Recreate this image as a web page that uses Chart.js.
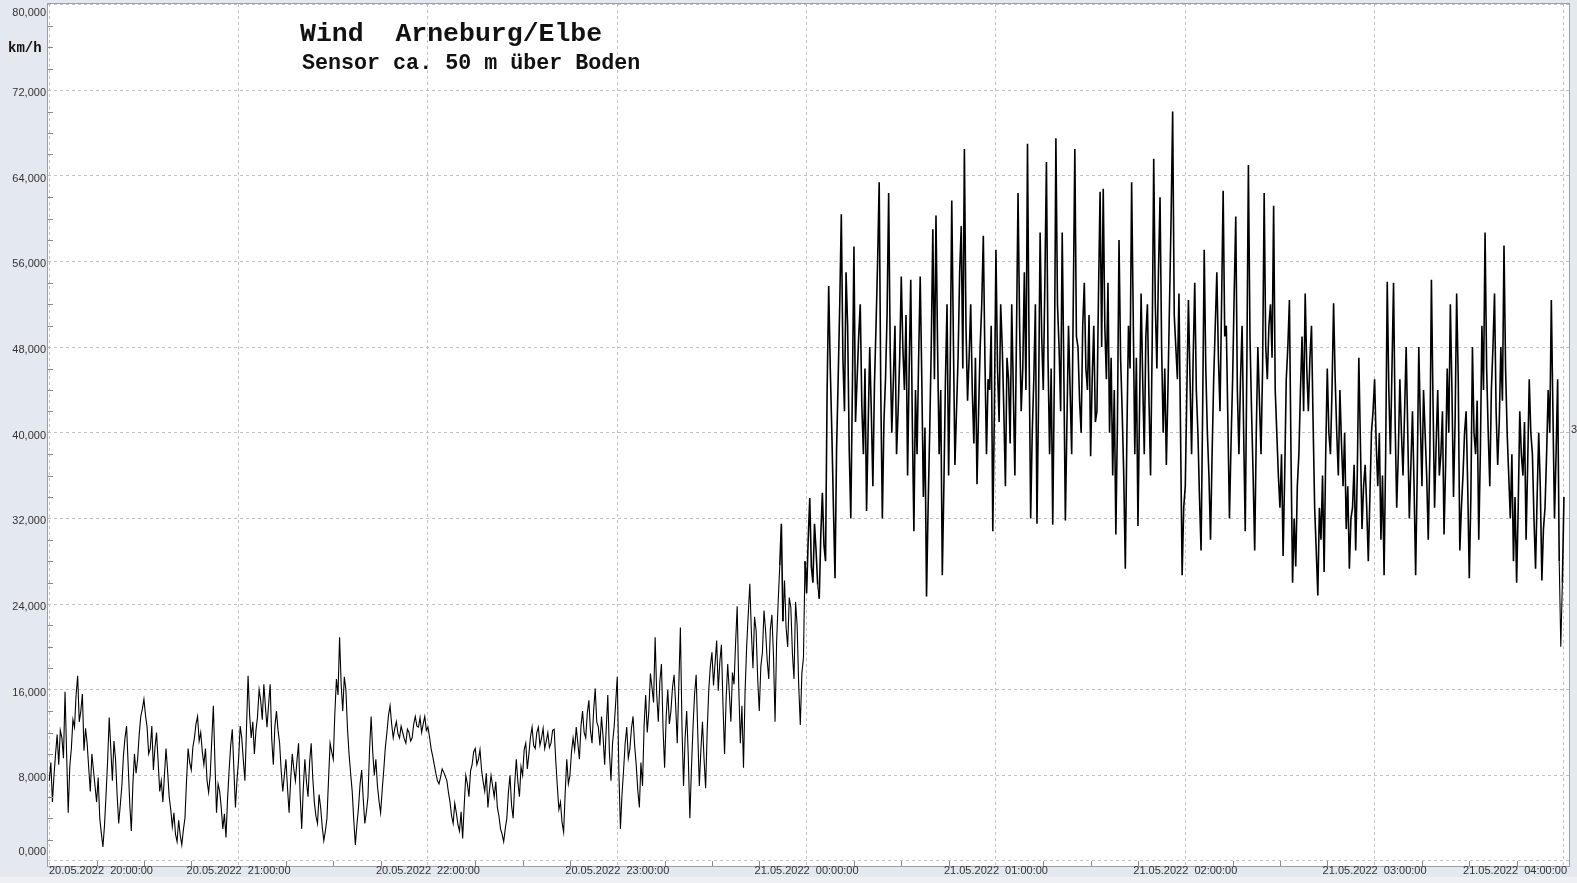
<!DOCTYPE html>
<html>
<head>
<meta charset="utf-8">
<script src="https://cdn.jsdelivr.net/npm/chart.js@4.4.0/dist/chart.umd.min.js"></script>
<style>
    html, body { margin: 0; padding: 0; background: #e4e8ef; overflow: hidden; width: 1577px; height: 883px; }
    #wrap { position: relative; width: 1577px; height: 883px; overflow: hidden; }
    #strip { position: absolute; left: 0; top: 877px; width: 1577px; height: 6px; background: #eef0f4; }
    canvas { display: block; position: absolute; left: 0; top: 0; }
    .mono { position: absolute; font-family: "Liberation Mono", "Courier New", monospace; font-weight: bold; color: #111; white-space: pre; }
    #title { left: 300px; top: 19px; font-size: 26.5px; }
    #sub { left: 302px; top: 51px; font-size: 21.7px; }
    #unit { left: 8px; top: 40px; font-size: 14px; }
    #cur { position: absolute; left: 1571px; top: 423px; font: 11px "Liberation Sans", Arial, sans-serif; color: #333; }
</style>
</head>
<body>
<div id="wrap">
    <div id="strip"></div>
    <canvas id="windChart" width="1577" height="883"></canvas>
    <div id="title" class="mono">Wind  Arneburg/Elbe</div>
    <div id="sub" class="mono">Sensor ca. 50 m über Boden</div>
    <div id="unit" class="mono">km/h</div>
    <div id="cur">3</div>
</div>
<script>
// Windgeschwindigkeit km/h, ein Wert pro 30 s ab 20.05.2022 20:00
const h20 = [7.5,9.2, 5.5,8, 10,11.8, 9,12.2, 11.5,9.6, 15.8,10, 4.5,8.8, 10.5,13.2, 12.5,15.5, 17.3,13,
    14,15.6, 10.3,12.4, 11,8.7, 6.5,10, 8.5,7, 5.5,7.8, 4,2.6, 1.3,3.3, 6.2,9.4, 13.4,10.5,
    7.5,11.2, 9.5,6.2, 3.5,5.2, 7,9.8, 11.5,12.6, 9,5.4, 2.8,7.2, 10,8.2, 9.5,11.8, 13.5,14.2,
    15.1,13.6, 12.5,10, 10.5,12.6, 8.5,10.6, 12,9.3, 6.5,7.5, 5.5,8, 10.5,8.4, 6,4.8, 3.2,4.5,
    2.5,1.8, 3.8,2.4, 1.5,2.9, 4,7.5, 10.5,9.2, 8.5,10.6, 11.5,12.8, 13.5,11.2, 12,10.2, 9,10.5,
    7.5,6.4, 8,11.3, 14.5,9.2, 4.5,7.2, 6.5,5, 3,4.4, 2.2,5.8, 8.5,10.8, 12.3,8.6, 5,7.6];
const h21 = [9.5,12.6, 11.5,9.4, 7.5,12.4, 17.3,13.6, 11.5,13, 10,12.2, 13.5,16, 15,13.2, 16.5,14.4, 12.5,14.6,
    16.5,11.4, 9,12.6, 14,12.2, 11,8.4, 6.5,8, 9.5,6.8, 4.5,7.6, 10,8.6, 7.5,9.4, 11,6.2,
    3,6.8, 9.5,7.4, 6,9.2, 11,7.8, 5.5,4.2, 3.5,6.2, 5,3.2, 1.9,2.8, 4,7.6, 11,10.2,
    9.5,13.8, 17,15.5, 20.9,16.5, 14,17.2, 16,12.4, 10,8.2, 6.5,3.8, 1.5,3.4, 5,7.2, 8.5,5.8,
    3.5,4.6, 6,10.4, 13.5,10.2, 8,9.5, 7,5.6, 4.5,6.6, 8.5,10.6, 12,13.6, 14.5,12.8, 11.5,12.4,
    13,11.9, 11.5,12.6, 12,11.4, 11,12.3, 12,11.2, 11.5,12.8, 13.5,12.6, 12.5,13.4, 12,12.8, 13.5,12.2];
const h22 = [12.5,11.6, 10.5,9.8, 9,8.2, 7.5,7.2, 7.8,8.6, 8.3,7.9, 7.5,6.4, 5.5,4.2, 3.5,5.4, 4.5,3.4,
    2.8,4.6, 2.1,5.2, 8,7.2, 6,8.4, 9,10.2, 10.5,9, 9.5,10.4, 8.5,7.4, 6.5,8.2, 5,6.6,
    8,7, 6,7.4, 5,4.2, 3,2.5, 1.8,3, 4,6.4, 8,5.2, 4,7.2, 9.5,7.4, 6,8.8,
    8,10.4, 11,8.6, 10,11.6, 12.5,10.8, 10.5,12, 12.5,10.8, 11.5,12.4, 10.5,11.2, 12,10.6, 11,12.2,
    12.3,9.4, 7,4.8, 5.5,3.6, 2.7,6.4, 9.5,7.2, 8,10.2, 11.5,10.4, 12.5,11, 9.5,12.6, 14,12,
    11.5,13.8, 15,12.2, 11,14, 16.1,13, 12.5,10.8, 13.5,11.6, 9,12.4, 15.5,10.2, 7.5,11, 12.5,14.8];
const h23 = [17.2,8.4, 3,6.2, 8.5,11, 12.5,9.6, 10.5,12.4, 13.5,10.8, 9,6.6, 5,9.2, 7,12.6, 15.5,12,
    14,17.5, 16.2,14.8, 20.9,15.6, 13,16.8, 18.4,12.4, 8.7,13.5, 16,12.8, 14,16.2, 17.4,14.6, 11,16.4,
    21.8,12.6, 7,11.5, 14,9.8, 4,8.6, 12.5,15.6, 17.4,12, 7,10.4, 13,9.5, 6.8,12.2, 16,18.2,
    19.5,16.4, 18.5,20.6, 15.9,18.6, 20.2,14.6, 10,15.2, 18.4,15.8, 13,17.6, 16.5,20.4, 23.8,16.2, 11,14.5,
    8.7,15.8, 20,23, 25.9,21.4, 18,22.8, 21.5,17, 14,18.2, 19.5,23.4, 21.5,18.8, 17,21.6, 23,19.2,
    13,20.5, 24.3,27.6, 31.5,22.4, 26.2,21.8, 20,24.6, 23.7,19.4, 17,24.2, 22,16.4, 12.7,17.5, 19,28];
const h00 = [25,30, 33.9,27.5, 26,31.5, 29,25.8, 24.5,30.5, 34.4,29.5, 28,44, 53.7,46, 40,33, 26.4,38.5,
    45,52, 60.4,47, 42,55, 50,38.5, 32,44, 57.4,41, 45,49, 52,42.5, 38,46, 32.7,40.5,
    48,42, 35,44.5, 50,56, 63.4,44, 32,41, 45,51, 62.4,47.5, 40,45, 50,38, 42,47,
    54.6,48, 44,51, 36,46, 54.3,41, 30.8,44, 38,47, 54.6,45, 34,40.5, 24.7,33, 40,48,
    59,45, 60.3,48, 38,44, 26.7,35, 45,52, 36,46, 61.7,49, 37,42, 47,55, 59.3,46,
    66.5,50, 43,47, 52,44, 39,47, 35.2,42, 48,52, 58.4,47, 38,45, 44,50, 30.8,42];
const h01 = [57.1,46, 41,52, 48,42, 35,47, 45,39, 52,44, 36,49, 62.4,50, 42,46, 55,44,
    67,48, 32,40, 45,52, 31.5,43, 58.7,49, 44,54, 65.3,47, 38,46, 31.4,45, 67.5,52,
    48,42, 58.7,46, 31.8,41, 50,44, 38,52, 66.5,49, 48,43, 40,50, 54,46, 44,51,
    37.8,45, 50,41, 42,53, 62.5,48, 62.8,50, 45,54, 40,47, 36,44, 30.5,41, 58,47,
    42,36, 27.3,40, 50,46, 63.4,51, 38,47, 31.3,42, 53,45, 38,49, 52,43, 36,48,
    65.6,52, 46,55, 62,48, 40,46, 37,44, 52,60, 70,51, 48,45, 53,40, 26.7,33];
const h02 = [35,44, 52.4,45, 38,47, 54,44, 40,34, 29,42, 57.1,46, 40,36, 30,38, 45,50,
    55,47, 42,52, 62.6,49, 50,41, 32,39, 45,53, 60.2,44, 38,45, 50,40, 30.8,46,
    65,49, 42,36, 29,40, 48,43, 38,46, 62.4,48, 45,50, 52,47, 61.2,44, 40,36,
    33,38, 28.5,36, 45,48, 52.4,38, 26,32, 27.5,35, 38,44, 49,42, 53,46, 42,47,
    50,41, 33,29, 24.8,33, 30,36, 27,38, 46,40, 38,44, 52.1,45, 40,36, 44,39,
    35,40, 31,35, 27.3,32, 33,37, 29,36, 47,39, 31,35, 37,33, 28,34, 40,42];
const h03 = [45,39, 35,40, 30,36, 26.7,38, 54.1,44, 38,46, 54,41, 33,38, 45,40, 36,42,
    48,40, 32,37, 42,35, 26.7,36, 48,41, 35,44, 40,36, 30,38, 54.3,43, 33,39,
    44,36, 38,42, 30.5,37, 46,40, 52,44, 34,41, 53,45, 29,33, 36,40, 42,35,
    26.4,34, 48,40, 38,43, 30,38, 50,44, 58.7,46, 40,35, 44,48, 53,42, 37,41,
    48,43, 57.5,46, 40,36, 32,38, 28,34, 26,33, 42,38, 36,41, 30,37, 45,40,
    38,32, 27.3,34, 40,35, 26.2,31, 33,38, 44,40, 52.4,42, 32,38, 45,28, 20,26,
    34];

const hourTicks = [0, 60, 120, 180, 240, 300, 360, 420, 480];
const hourLabels = ["20.05.2022  20:00:00", "20.05.2022  21:00:00", "20.05.2022  22:00:00",
    "20.05.2022  23:00:00", "21.05.2022  00:00:00", "21.05.2022  01:00:00",
    "21.05.2022  02:00:00", "21.05.2022  03:00:00", "21.05.2022  04:00:00"];
const yTicks = [0, 8, 16, 24, 32, 40, 48, 56, 64, 72, 80];

const values = [...h20, ...h21, ...h22, ...h23, ...h00, ...h01, ...h02, ...h03];
const points = values.map((v, i) => ({ x: i / 2, y: v }));

const fmt = v => v.toFixed(3).replace('.', ',');

/* Rahmen, Hilfsstriche, Achsbeschriftung */
const framePlugin = {
    id: 'frame',
    beforeDraw(chart) {
        const { ctx, chartArea: a } = chart;
        ctx.save();
        ctx.fillStyle = '#ffffff';
        ctx.fillRect(a.left, a.top, a.right - a.left, a.bottom - a.top);
        ctx.restore();
    },
    afterDraw(chart) {
        const { ctx, chartArea: a } = chart;
        const xs = chart.scales.x, ys = chart.scales.y;
        ctx.save();
        ctx.strokeStyle = '#9a9ea6';
        ctx.lineWidth = 1;
        ctx.strokeRect(a.left - 0.5, a.top - 0.5, a.right - a.left + 1, a.bottom - a.top + 1);

        ctx.strokeStyle = '#8a8a8a';
        ctx.beginPath();
        for (let v = 2; v < 80; v += 2) {
            if (v % 8 === 0) continue;
            const y = Math.round(ys.getPixelForValue(v)) + 0.5;
            ctx.moveTo(a.left, y); ctx.lineTo(a.left + 5, y);
        }
        for (let m = 15; m < 481; m += 15) {
            if (m % 60 === 0) continue;
            const x = Math.round(xs.getPixelForValue(m)) + 0.5;
            ctx.moveTo(x, a.bottom); ctx.lineTo(x, a.bottom - 5);
        }
        ctx.stroke();

        ctx.fillStyle = '#333';
        ctx.font = '11px "Liberation Sans", Arial, sans-serif';
        ctx.textAlign = 'right';
        ctx.textBaseline = 'middle';
        yTicks.forEach(v => {
            let y = ys.getPixelForValue(v) + 3;
            y = Math.max(13, Math.min(852, y));
            ctx.fillText(fmt(v), a.left - 2, y);
        });

        ctx.textAlign = 'left';
        hourTicks.forEach((m, i) => {
            const w = ctx.measureText(hourLabels[i]).width;
            let x = xs.getPixelForValue(m) - w / 2;
            x = Math.max(a.left + 1, Math.min(a.right - w - 2, x));
            ctx.fillText(hourLabels[i], x, a.bottom + 5);
        });
        ctx.restore();
    }
};

new Chart(document.getElementById('windChart'), {
    type: 'line',
    data: {
        datasets: [{
            data: points,
            borderColor: '#000000',
            borderWidth: 1.1,
            pointRadius: 0,
            tension: 0,
            fill: false,
            // im Starkwindteil wirken die Striche dicker
            segment: { borderWidth: c => (c.p0.parsed.y + c.p1.parsed.y) / 2 > 26 ? 1.6 : 1.1 }
        }]
    },
    options: {
        responsive: false,
        animation: false,
        devicePixelRatio: 1,
        layout: { padding: { left: 48, top: 4, right: 8, bottom: 17 } },
        plugins: { legend: { display: false }, tooltip: { enabled: false } },
        scales: {
            x: {
                type: 'linear',
                min: -0.4,
                max: 481.6,
                afterBuildTicks: s => { s.ticks = hourTicks.map(v => ({ value: v })); },
                ticks: { display: false },
                grid: { color: '#c2c2c2', drawTicks: false, tickLength: 0 },
                border: { display: false, dash: [3, 3] }
            },
            y: {
                min: -0.47,
                max: 80.05,
                afterBuildTicks: s => { s.ticks = yTicks.map(v => ({ value: v })); },
                ticks: { display: false },
                grid: { color: '#c2c2c2', drawTicks: false, tickLength: 0 },
                border: { display: false, dash: [3, 3] }
            }
        }
    },
    plugins: [framePlugin]
});
</script>
</body>
</html>
